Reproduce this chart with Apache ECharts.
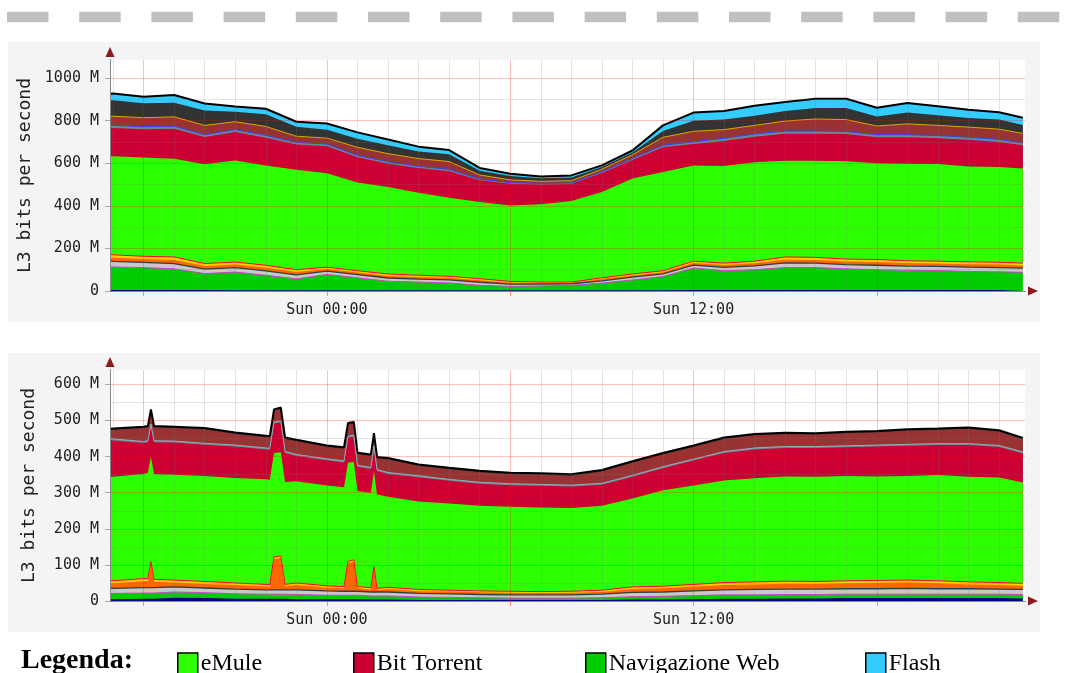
<!DOCTYPE html>
<html><head><meta charset="utf-8">
<script src="https://cdn.jsdelivr.net/npm/echarts@6/dist/echarts.min.js"></script>
<style>html,body{margin:0;padding:0;background:#fff}#c{width:1083px;height:673px}</style>
</head><body><div id="c"></div>
<script>
// ---------- DATA (hours relative to Sun 00:00) ----------
const topTimes = [-7.1,-7,-6,-5,-4,-3,-2,-1,0,1,2,3,4,5,6,7,8,9,10,11,12,13,14,15,16,17,18,19,20,21,22,22.78];
const tNavy   = [5,5,5,5,5,4,4,4,4,4,3,3,3,3,3,3,3,3,4,4,5,5,5,5,5,5,5,5,5,5,5,5];
const tWeb    = [108,108,105,99,77,85,70,53,74,58,43,39,35,24,19,21,24,34,48,64,103,90,95,105,105,99,95,92,91,87,85,83];
const tGrey   = [27,26,24,25,21,21,21,19,15,15,15,14,14,14,10,8,7,11,13,12,14,16,18,22,21,20,21,20,20,20,20,19];
const tOrange = [17,17,16,17,14,14,14,13,10,10,10,10,9,9,7,5,4,8,8,8,10,11,12,15,15,14,15,14,13,14,14,13];
const tYellow = [15,14,13,14,12,12,12,11,9,8,9,8,8,8,6,5,4,6,7,7,8,9,10,13,12,12,12,11,11,11,11,11];
const tEmule  = [460,463,464,461,466,477,469,470,441,415,408,388,369,360,357,365,381,403,448,464,450,456,465,452,454,460,452,456,456,448,447,444];
const tBT     = [135,133,133,141,128,134,130,118,127,118,110,116,125,102,102,93,79,89,87,116,100,118,120,127,127,127,122,124,122,125,118,109];
const tSteel  = [12,12,12,12,11,11,11,10,10,9,9,8,8,6,5,5,5,6,7,9,11,12,12,12,12,12,12,12,12,12,12,11];
const tBrown  = [41,43,42,44,44,37,42,29,28,38,38,36,37,19,13,10,11,12,18,38,49,41,41,47,57,56,41,51,48,48,48,45];
const tDark   = [75,75,68,66,70,47,57,45,39,40,39,33,34,20,18,15,15,10,10,30,50,47,45,47,52,55,45,53,47,42,45,40];
const tFlash  = [32,32,30,37,33,25,26,23,30,30,28,23,20,13,11,8,10,8,10,26,38,40,47,43,43,43,41,45,43,39,35,34];

const botTimes = [-7.1,-7,-6,-5.86,-5.76,-5.66,-5,-4,-3,-2,-1.87,-1.73,-1.51,-1.37,-1,0,0.56,0.69,0.88,1,1.44,1.54,1.64,2,3,4,5,6,7,8,9,10,11,12,13,14,15,16,17,18,19,20,21,22,22.78];
const bNavy   = [5,5,6,6,6,6,9,8,6,6,6,6,6,6,5,5,5,5,5,5,4,4,4,4,3,3,3,3,3,3,3,4,4,5,6,6,7,7,8,8,8,8,8,8,7];
const bWeb    = [16,16,16,16,16,16,16,15,14,13,13,13,13,13,13,11,11,11,11,11,10,10,10,10,8,7,6,5,5,5,6,8,9,10,11,11,11,11,11,11,11,11,11,11,11];
const bGrey   = [14,14,15,15,15,15,14,13,13,12,12,12,12,12,13,12,11,11,11,11,11,11,11,11,10,10,9,9,9,9,10,12,12,13,14,15,15,15,15,15,16,15,15,14,14];
const bOrange = [14,14,18,18,65,16,12,11,11,9,8,85,88,9,13,9,8,78,82,8,7,65,5,8,6,6,6,6,5,6,6,9,10,12,13,14,15,14,15,16,16,15,12,11,10];
const bYellow = [7,7,7,7,7,7,7,7,6,6,6,6,6,6,6,5,5,5,5,5,5,5,5,5,5,4,4,4,4,4,5,6,6,6,7,7,7,7,7,7,7,7,7,7,7];
const bEmule  = [288,288,290,293,291,292,292,292,291,291,291,288,287,284,282,278,275,273,272,265,263,265,260,251,244,240,236,234,233,231,234,245,266,274,283,287,290,290,290,288,288,293,291,291,279];
const bBT     = [102,101,86,85,86,88,89,87,87,83,83,82,83,80,70,70,69,69,70,67,66,66,65,63,67,63,61,60,60,59,58,60,61,69,76,80,79,80,80,83,84,83,88,85,81];
const bSteel  = [4,4,4,4,4,4,4,4,4,4,4,4,4,4,4,4,4,4,4,4,4,4,4,4,4,4,4,4,4,4,4,4,4,4,4,4,4,4,4,4,4,4,4,4,4];
const bBrown  = [23,25,37,37,37,37,36,38,31,30,30,31,33,35,37,33,34,33,32,31,32,31,31,36,27,28,28,26,27,26,33,35,34,34,35,35,34,33,35,35,38,38,41,38,35];
const bDark   = [3,3,3,3,3,3,3,3,3,3,3,3,3,3,3,3,3,3,3,3,3,3,3,3,3,3,3,3,3,3,3,3,3,3,3,3,3,3,3,3,3,3,3,3,3];
const bFlash  = [1,1,1,1,1,1,1,1,1,1,1,1,1,1,1,1,1,1,1,1,1,1,1,1,1,1,1,1,1,1,1,1,1,1,1,1,1,1,1,1,1,1,1,1,1];

const topYLabels = [0,200,400,600,800,1000];
const botYLabels = [0,100,200,300,400,500,600];
const xLabelHours = [0,12];
const legendNames = ['eMule','Bit Torrent','Navigazione Web','Flash'];

// ---------- STYLE / LAYOUT ----------
const MONO = 'DejaVu Sans Mono';
const X_MIN = -7.1, X_MAX = 22.85;
const MAJOR = 'rgba(255,0,0,0.25)', MINOR = 'rgba(120,120,120,0.2)';

function layers(d, bottom) {
  return [
    {name:'Altro 1', data:d[0], color:'#000080'},
    {name:'Navigazione Web', data:d[1], color:'#00cc00', line:{color:'#cc44cc', width:1}},
    {name:'Altro 2', data:d[2], color:'#c8c8c8', line:{color:'#2f3f3f', width:1.3}},
    {name:'Altro 3', data:d[3], color:'#ff6600'},
    {name:'Altro 4', data:d[4], color:'#ffcc00', line:{color:'#ff0033', width:1}},
    {name:'eMule', data:d[5], color:'#2eff00'},
    {name:'Bit Torrent', data:d[6], color:'#cc0033'},
    {name:'Altro 5', data:d[7], color:'#6b8796', line:{color: bottom ? '#8fb0b8' : '#3344ee', width:1}},
    {name:'Altro 6', data:d[8], color:'#993333', line: bottom ? null : {color:'#d4aa00', width:1}},
    {name:'Altro 7', data:d[9], color:'#333333'},
    {name:'Flash', data:d[10], color:'#33ccff', line:{color:'#000', width:2}}
  ];
}

// cumulative tops are computed from the layer values; drawn top-most first so lower layers overlay
function buildSeries(times, defs, axisIdx) {
  const cum = [];
  let run = times.map(()=>0);
  defs.forEach(l => { run = run.map((v,i)=>v + l.data[i]); cum.push(run); });
  const out = defs.map((l,k) => ({
    name: l.name, type:'line', xAxisIndex: axisIdx, yAxisIndex: axisIdx,
    data: times.map((t,i)=>[t, cum[k][i]]),
    showSymbol:false, symbol:'none', color:l.color, itemStyle:{color:l.color},
    areaStyle:{color:l.color, opacity:1, origin:'start'},
    lineStyle: l.line ? {color:l.line.color, width:l.line.width} : {width:0, opacity:0},
    emphasis:{disabled:true}, silent:true, animation:false, z:2
  }));
  return out.reverse();
}

function gridLineSeries(axisIdx, ymax, yStep, yMajor) {
  const data = [];
  for (let h = Math.ceil(X_MIN); h <= Math.floor(X_MAX); h++) {
    data.push({xAxis:h, lineStyle:{color: h % 6 === 0 ? MAJOR : MINOR, width:1, type:'solid'}});
  }
  for (let v = yStep; v <= ymax; v += yStep) {
    data.push({yAxis:v, lineStyle:{color: v % yMajor === 0 ? MAJOR : MINOR, width:1, type:'solid'}});
  }
  return {
    type:'line', name:'grid'+axisIdx, xAxisIndex:axisIdx, yAxisIndex:axisIdx,
    data:[[X_MIN,0]], showSymbol:false, symbol:'none', lineStyle:{width:0, opacity:0}, silent:true, animation:false,
    markLine:{silent:true, symbol:['none','none'], animation:false, label:{show:false}, emphasis:{disabled:true}, data}
  };
}

function pad(n){ n = ((n % 24) + 24) % 24; return (n<10?'0':'')+n; }

function xAxes(gridIndex) {
  return [
    {gridIndex, type:'value', position:'bottom', min:X_MIN, max:X_MAX, z:6,
     axisLine:{show:true, onZero:false, lineStyle:{color:'#888', width:1}},
     axisTick:{show:true, customValues:[-6,0,6,12,18], length:5, lineStyle:{color:'rgba(255,0,0,0.4)'}},
     axisLabel:{show:true, customValues:xLabelHours, formatter:v=>'Sun '+pad(Math.round(v))+':00', fontFamily:MONO, fontSize:15, color:'#222', margin:12},
     splitLine:{show:false}},
    {gridIndex, type:'value', position:'bottom', min:X_MIN, max:X_MAX, z:5,
     axisLine:{show:true, onZero:false, symbol:['none','triangle'], symbolSize:[9,10], symbolOffset:[0,8], lineStyle:{color:'#8b1a1a', width:1}},
     axisTick:{show:false}, axisLabel:{show:false}, splitLine:{show:false}}
  ];
}
function yAxes(gridIndex, ymax, labels) {
  return [
    {gridIndex, type:'value', position:'left', min:0, max:ymax, z:6,
     name:'L3 bits per second', nameLocation:'middle', nameRotate:90, nameGap:72,
     nameTextStyle:{fontFamily:MONO, fontSize:18, color:'#222'},
     axisLine:{show:true, onZero:false, lineStyle:{color:'#888', width:1}},
     axisTick:{show:true, customValues:labels, length:5, lineStyle:{color:'#aaa'}},
     axisLabel:{show:true, customValues:labels, formatter:v=> v===0 ? '0' : v+' M', fontFamily:MONO, fontSize:15, color:'#222', margin:11},
     splitLine:{show:false}},
    {gridIndex, type:'value', position:'left', min:0, max:ymax, z:5,
     axisLine:{show:true, onZero:false, symbol:['none','triangle'], symbolSize:[9,10], symbolOffset:[0,8], lineStyle:{color:'#8b1a1a', width:1}},
     axisTick:{show:false}, axisLabel:{show:false}, splitLine:{show:false}}
  ];
}

const topDefs = layers([tNavy,tWeb,tGrey,tOrange,tYellow,tEmule,tBT,tSteel,tBrown,tDark,tFlash], false);
const botDefs = layers([bNavy,bWeb,bGrey,bOrange,bYellow,bEmule,bBT,bSteel,bBrown,bDark,bFlash], true);

const legendLeft = [172, 348, 580, 860];

const option = {
  animation:false,
  backgroundColor:'#fff',
  title:{text:'Legenda:', left:16, top:642, textStyle:{fontFamily:'Liberation Serif', fontSize:28, fontWeight:'bold', color:'#000'}},
  legend: legendNames.map((n,i)=>({
    data:[n], left:legendLeft[i], top:647, icon:'rect', itemWidth:20, itemHeight:22, itemGap:0, selectedMode:false,
    itemStyle:{borderColor:'#000', borderWidth:1.5},
    textStyle:{fontFamily:'Liberation Serif', fontSize:24, color:'#000', padding:[0,0,0,-2]}
  })),
  graphic:[
    {type:'line', silent:true, z:-10, shape:{x1:7, y1:17, x2:1083, y2:17}, style:{stroke:'#c0c0c0', lineWidth:10.6, lineDash:[41.5,30.7]}},
    {type:'rect', silent:true, z:-10, shape:{x:8, y:42, width:1032, height:280}, style:{fill:'#f4f4f4'}},
    {type:'rect', silent:true, z:-10, shape:{x:8, y:353, width:1032, height:279}, style:{fill:'#f4f4f4'}}
  ],
  grid:[
    {left:110, top:60, width:915, height:231, show:true, backgroundColor:'#fff', borderWidth:0},
    {left:110, top:370, width:915, height:231, show:true, backgroundColor:'#fff', borderWidth:0}
  ],
  xAxis:[...xAxes(0), ...xAxes(1)],
  yAxis:[...yAxes(0,1085,topYLabels), ...yAxes(1,640,botYLabels)],
  series:[
    ...buildSeries(topTimes, topDefs, 0),
    gridLineSeries(0, 1085, 100, 200),
    ...buildSeries(botTimes, botDefs, 2),
    gridLineSeries(2, 640, 50, 100)
  ]
};
const chart = echarts.init(document.getElementById('c'));
chart.setOption(option);
</script></body></html>
